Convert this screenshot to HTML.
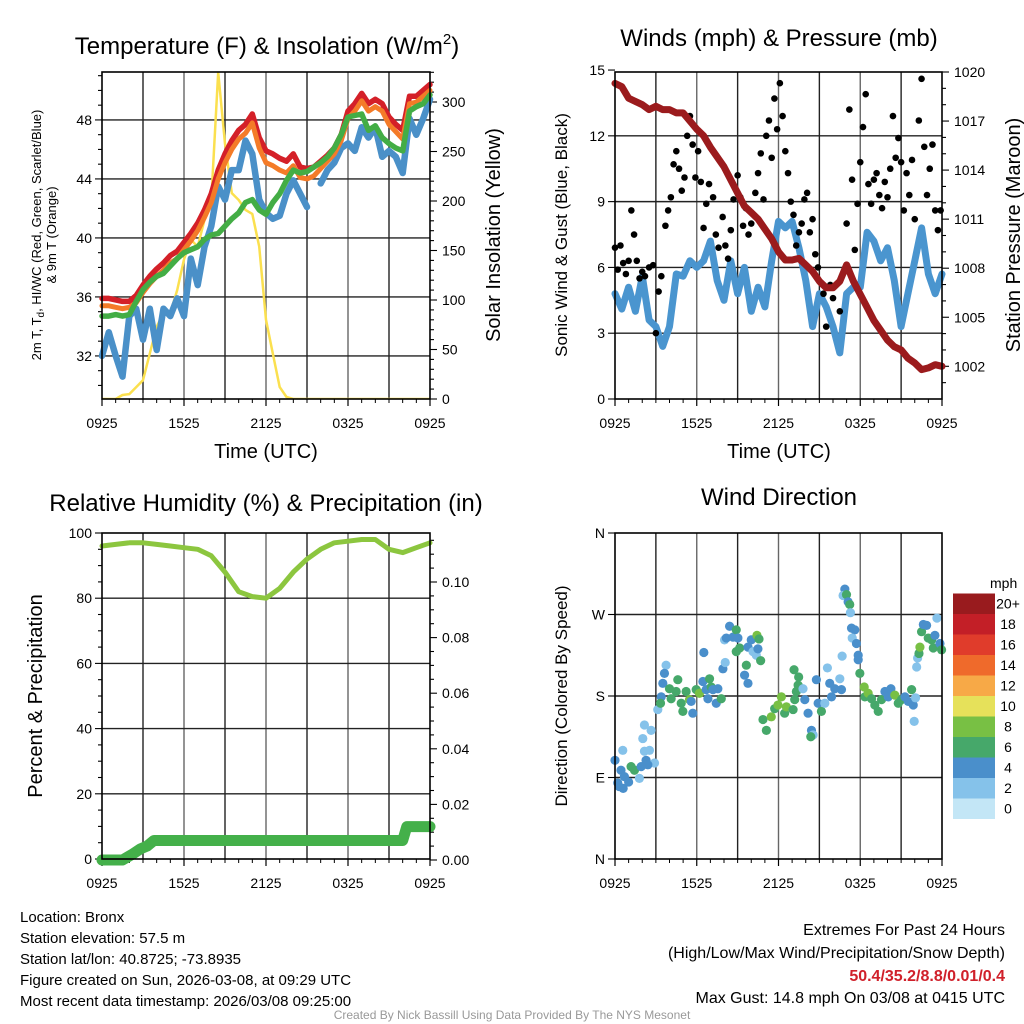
<!DOCTYPE html>
<html><head><meta charset="utf-8"><style>
html,body{margin:0;padding:0;background:#fff;}
svg{display:block;font-family:"Liberation Sans",sans-serif;}
</style></head><body>
<svg id="chart" width="1024" height="1024" viewBox="0 0 1024 1024" xmlns="http://www.w3.org/2000/svg">
<rect x="0" y="0" width="1024" height="1024" fill="#fff"/>
<text x="267" y="54" font-size="24" text-anchor="middle">Temperature (F) &amp; Insolation (W/m<tspan dy="-10" font-size="15">2</tspan><tspan dy="10">)</tspan></text>
<text x="779" y="46" font-size="24" text-anchor="middle">Winds (mph) &amp; Pressure (mb)</text>
<text x="266" y="511" font-size="24" text-anchor="middle">Relative Humidity (%) &amp; Precipitation (in)</text>
<text x="779" y="505" font-size="24" text-anchor="middle">Wind Direction</text>
<text x="266" y="458" font-size="20" text-anchor="middle">Time (UTC)</text>
<text x="779" y="458" font-size="20" text-anchor="middle">Time (UTC)</text>
<text transform="translate(41,235) rotate(-90)" font-size="13" text-anchor="middle">2m T, T<tspan dy="3" font-size="10">d</tspan><tspan dy="-3">, HI/WC (Red, Green, Scarlet/Blue)</tspan></text>
<text transform="translate(56,235) rotate(-90)" font-size="13" text-anchor="middle">&amp; 9m T (Orange)</text>
<text transform="translate(500,235) rotate(-90)" font-size="20" text-anchor="middle">Solar Insolation (Yellow)</text>
<text transform="translate(567,235) rotate(-90)" font-size="17" text-anchor="middle">Sonic Wind &amp; Gust (Blue, Black)</text>
<text transform="translate(1020,235) rotate(-90)" font-size="20" text-anchor="middle">Station Pressure (Maroon)</text>
<text transform="translate(42,696) rotate(-90)" font-size="20" text-anchor="middle">Percent &amp; Precipitation</text>
<text transform="translate(567,696) rotate(-90)" font-size="17" text-anchor="middle">Direction (Colored By Speed)</text>
<g font-size="15">
<text x="20" y="922">Location: Bronx</text>
<text x="20" y="943">Station elevation: 57.5 m</text>
<text x="20" y="964">Station lat/lon: 40.8725; -73.8935</text>
<text x="20" y="985">Figure created on Sun, 2026-03-08, at 09:29 UTC</text>
<text x="20" y="1006">Most recent data timestamp: 2026/03/08 09:25:00</text>
</g>
<g font-size="16" text-anchor="end">
<text x="1005" y="935">Extremes For Past 24 Hours</text>
<text x="1005" y="958">(High/Low/Max Wind/Precipitation/Snow Depth)</text>
<text x="1005" y="981" font-weight="bold" fill="#d0202a">50.4/35.2/8.8/0.01/0.4</text>
<text x="1005" y="1003">Max Gust: 14.8 mph On 03/08 at 0415 UTC</text>
</g>
<text x="512" y="1019" font-size="12" fill="#999" text-anchor="middle">Created By Nick Bassill Using Data Provided By The NYS Mesonet</text>
</svg>
<script>
// ---------- data ----------
const xTickLabels = ["0925","1525","2125","0325","0925"];
const tempRed = [35.9,35.9,35.8,35.7,35.7,36.1,36.8,37.4,37.9,38.3,38.8,39.1,39.7,40.3,41.0,41.9,43.0,44.6,45.7,46.6,47.3,47.7,48.4,46.8,45.9,45.7,45.4,45.2,45.7,44.8,44.7,44.8,45.2,45.6,46.1,47.0,48.6,49.1,49.8,49.1,49.4,49.1,48.2,47.7,47.3,49.6,49.6,50.0,50.4];
const tempOrange = [35.4,35.4,35.3,35.2,35.3,35.6,36.3,36.9,37.4,37.8,38.3,38.6,39.2,39.8,40.5,41.4,42.4,44.0,45.1,46.0,46.7,47.1,47.8,46.1,45.1,44.9,44.6,44.4,44.9,44.1,44.0,44.2,44.7,45.2,45.7,46.6,48.1,48.6,49.3,48.6,48.9,48.6,47.7,47.2,46.7,49.1,49.2,49.6,50.0];
const tempGreen = [34.7,34.7,34.8,34.7,34.8,35.7,36.5,37.0,37.4,37.6,38.1,38.6,39.0,39.2,39.4,39.9,40.2,40.3,40.8,41.3,41.7,42.4,42.6,41.9,41.6,42.4,43.0,43.9,44.6,44.4,44.5,44.8,45.1,45.5,46.1,47.0,48.2,48.3,48.4,47.3,47.6,46.8,46.4,46.1,45.9,48.6,48.9,49.1,49.7];
const tempBlue = [32.0,33.6,32.0,30.6,34.7,35.2,33.1,35.2,32.4,35.2,34.7,35.9,34.7,38.6,36.8,39.4,40.8,43.5,42.6,44.6,44.6,46.6,45.7,42.6,41.7,41.3,41.5,43.0,43.9,43.0,42.1,null,43.7,44.6,45.1,46.1,46.4,45.9,47.5,46.8,47.5,45.5,45.9,45.5,44.4,48.1,47.0,48.1,49.4];
const insolation = [0,0,0,4,5,12,19,46,73,87,87,110,141,161,154,181,201,330,258,208,201,191,187,154,80,46,12,2,0,0,0,0,0,0,0,0,0,0,0,0,0,0,0,0,0,0,0,0,0];
const tempTicks = [32,36,40,44,48];
const insolTicks = [0,50,100,150,200,250,300];

const windSpeed = [4.8,4.1,5.1,4.0,5.6,3.6,3.3,2.4,3.3,5.7,5.6,6.3,6.0,6.3,7.2,5.4,4.5,6.3,4.8,6.0,4.0,5.1,4.2,6.3,8.1,7.8,8.1,6.9,5.4,3.3,4.8,4.2,3.3,2.1,4.8,5.1,5.1,7.6,7.2,6.3,6.9,5.4,3.3,4.8,6.3,7.8,5.7,4.8,5.7];
const gustHours = [0.0,0.2,0.4,0.6,0.8,1.0,1.2,1.4,1.6,1.8,2.0,2.2,2.5,2.8,3.0,3.2,3.4,3.7,3.9,4.1,4.3,4.5,4.7,4.9,5.1,5.3,5.5,5.7,5.9,6.1,6.3,6.5,6.7,6.9,7.2,7.4,7.6,7.9,8.1,8.3,8.5,8.7,9.0,9.2,9.4,9.6,9.8,10.0,10.3,10.5,10.7,10.9,11.1,11.3,11.5,11.7,11.9,12.1,12.3,12.5,12.7,12.9,13.1,13.3,13.5,13.7,13.9,14.1,14.3,14.5,14.7,14.9,15.1,15.3,15.5,15.8,16.0,16.5,17.0,17.2,17.4,17.6,17.8,18.0,18.2,18.4,18.6,18.8,19.0,19.2,19.4,19.6,19.8,20.0,20.2,20.4,20.6,20.8,21.0,21.2,21.4,21.6,21.8,22.0,22.3,22.5,22.7,22.9,23.1,23.3,23.5,23.7,23.9];
const gustValues = [6.9,5.9,7.0,6.2,5.7,6.3,8.6,7.5,6.3,5.5,5.8,5.6,6.0,6.1,3.0,4.9,5.6,7.9,8.6,9.2,10.7,11.3,10.5,9.5,10.1,12.0,12.9,11.6,10.1,11.3,9.9,7.8,8.9,9.8,9.2,7.5,6.9,8.3,7.0,6.4,7.7,9.1,10.2,9.2,7.9,8.7,7.5,8.0,9.4,10.3,11.2,9.1,12.0,12.7,11.0,13.7,12.3,14.4,12.9,11.3,10.3,9.0,8.4,7.0,7.6,8.0,9.1,9.4,7.6,8.2,6.6,6.0,5.3,4.8,3.3,5.2,4.6,4.0,8.0,13.2,10.0,6.8,8.9,10.8,12.4,13.9,9.8,8.9,10.0,10.3,9.3,8.7,9.9,9.2,10.5,12.9,11.0,11.9,10.8,8.6,10.3,9.3,10.9,8.2,12.7,14.6,11.5,9.3,10.5,11.6,8.6,7.7,8.6];
const pressure = [1019.3,1019.1,1018.4,1018.2,1018.0,1017.7,1017.9,1017.7,1017.7,1017.5,1017.5,1017.0,1016.5,1016.1,1015.4,1014.8,1014.2,1013.4,1012.6,1011.8,1011.4,1011.0,1010.4,1009.8,1009.0,1008.5,1008.5,1008.6,1008.2,1007.8,1007.2,1006.8,1006.8,1007.2,1008.2,1007.2,1006.4,1005.6,1004.8,1004.2,1003.6,1003.2,1003.0,1002.5,1002.2,1001.8,1001.9,1002.1,1002.0];
const windTicks = [0,3,6,9,12,15];
const pressureTicks = [1002,1005,1008,1011,1014,1017,1020];

const rhHours = [0,1,2,3,4,5,6,7,8,9,10,11,12,13,14,15,16,17,18,19,20,21,22,23,24];
const rhValues = [96,96.5,97,97,96.5,96,95.5,95,93,88,82,80.5,80,83,88,92,95,97,97.5,98,98,95,94,95.5,97];
const precipHours = [0,1.5,2.2,2.8,3.3,3.8,22.0,22.3,24];
const precipValues = [0,0,0.002,0.004,0.005,0.007,0.007,0.012,0.012];
const rhTicks = [0,20,40,60,80,100];
const precipTicks = ["0.00","0.02","0.04","0.06","0.08","0.10"];

const dirHours = [0.0,0.44,0.69,0.2,1.18,1.43,1.92,2.28,1.79,2.9,2.41,2.16,2.53,0.57,2.04,2.65,2.16,3.14,3.39,3.34,3.75,3.63,3.51,4.0,4.12,4.61,4.49,4.86,4.98,5.22,5.47,5.71,5.59,5.96,6.2,6.45,6.69,6.94,7.06,7.19,6.82,7.43,7.55,7.8,6.52,7.92,8.09,8.04,8.17,8.41,8.66,8.9,9.02,9.15,8.9,9.64,9.51,9.76,9.76,10.0,10.13,10.37,10.49,10.42,10.57,10.69,10.86,11.11,11.47,11.72,11.96,12.21,12.45,12.58,13.07,13.19,13.31,13.44,13.48,13.14,13.8,13.93,14.17,14.42,14.54,14.37,14.78,14.91,15.15,15.4,15.59,15.76,15.89,16.13,16.5,16.62,16.67,16.87,16.74,16.99,17.11,17.23,17.28,17.36,17.6,17.41,17.72,17.85,17.85,17.97,18.29,18.34,18.58,18.83,19.07,19.32,19.56,19.81,20.05,20.25,20.54,20.79,21.03,21.28,21.52,21.77,21.89,22.06,21.96,22.14,22.21,22.31,22.38,22.5,22.63,22.87,22.99,23.24,23.36,23.48,23.63,23.85,23.97,0.3,0.6,1.0];
const dirDegs = [109,98,91,84,102,98,102,109,89,106,104,119,120,120,133,142,148,165,179,172,214,205,194,188,177,198,185,172,163,185,176,161,174,187,183,196,187,199,190,187,177,172,188,177,228,210,217,242,244,257,245,253,244,233,229,214,203,194,234,242,229,225,232,247,243,219,154,142,157,166,170,179,161,168,165,176,185,192,201,209,188,176,161,142,137,135,198,172,163,172,211,194,179,188,199,187,224,298,291,292,284,281,272,255,253,244,238,225,220,205,190,179,183,177,170,163,176,185,179,188,181,172,176,179,174,187,170,178,152,212,222,227,234,251,259,258,244,242,233,247,266,238,231,80,78,85];
const dirSpeeds = [4,4,4,4,6,6,4,4,2,2,4,2,2,2,2,2,2,2,4,6,2,4,4,6,6,6,6,6,6,6,8,4,4,6,8,4,4,6,6,4,4,4,4,6,4,4,2,2,4,4,4,6,4,6,6,6,4,4,4,4,2,2,4,8,6,6,6,6,8,6,8,8,6,8,6,6,6,6,6,6,2,4,4,4,2,6,4,4,6,2,2,4,4,4,2,4,2,4,2,6,4,6,2,4,4,2,4,4,4,6,8,6,8,6,6,6,6,4,4,4,8,6,6,4,4,6,4,2,2,2,2,6,8,6,4,4,6,6,6,4,2,4,6,4,4,4];
const dirTickLabels = ["N","E","S","W","N"];
const colorbarLabels = ["0","2","4","6","8","10","12","14","16","18","20+"];
const colorbarColors = ["#c3e6f6","#85c2ea","#4a8fcb","#46a86a","#78c044","#e6e15a","#f7a947","#ef6a2b","#e03c2b","#c31f27","#991b1e"];

// ---------- drawing ----------
const NS = "http://www.w3.org/2000/svg";
const svg = document.getElementById('chart');
function mk(tag, attrs, parent){
  const e = document.createElementNS(NS, tag);
  for (const k in attrs) e.setAttribute(k, attrs[k]);
  (parent||svg).appendChild(e);
  return e;
}
function panel(x0,x1,y0,y1){ return {x0,x1,y0,y1,hx:h=>x0+(x1-x0)*h/24}; }
const P1 = panel(102,430,72,399), P2 = panel(615,942,72,399), P3 = panel(102,430,533,859), P4 = panel(615,942,533,859);
const tY = v => 399 - (v-29.08)*14.75;
const iY = v => 399 - v*0.99;
const wY = v => 399 - v*21.93;
const pY = v => 399 - (v-1000)*16.35;
const rY = v => 859 - v*3.26;
const prY = v => 860 - v*2780;
const dY = v => 859 - v*326/360;
const hrs = i => i*0.5;

function frame(P, name){
  const g = mk('g', {});
  
  
  for (let h=3; h<24; h+=3){
    const l = mk('line',{x1:P.hx(h),x2:P.hx(h),y1:P.y0,y2:P.y1,stroke:(h%6==0)?'#666':'#222','stroke-width':1.4},g);
    
    
  }
  xTickLabels.forEach((lab,i)=>{
    const x = P.hx(i*6);
    const t = mk('line',{x1:x,x2:x,y1:P.y1,y2:P.y1+7,stroke:'#000','stroke-width':1.2},g);
    
    
    const tx = mk('text',{x:x,y:P.y1+29,'font-size':14,'text-anchor':'middle'},g);
    tx.textContent = lab;
    
    
  });
  for (let h=1; h<24; h++){
    if (h%6==0) continue;
    const t = mk('line',{x1:P.hx(h),x2:P.hx(h),y1:P.y1,y2:P.y1+4,stroke:'#000','stroke-width':1},g);
    
    
  }
  return g;
}
function hgrid(P, y, g, name){
  const l = mk('line',{x1:P.x0,x2:P.x1,y1:y,y2:y,stroke:'#222','stroke-width':1.4},g);
  
  
}
function yTick(P, y, lab, side, g, name, major){
  const x = side=='l'?P.x0:P.x1;
  const len = major?7:4;
  const t = mk('line',{x1:x,x2:side=='l'?x-len:x+len,y1:y,y2:y,stroke:'#000','stroke-width':1.1},g);
  
  
  if (lab!==null){
    const tx = mk('text',{x:side=='l'?x-10:x+12,y:y+5,'font-size':14,'text-anchor':side=='l'?'end':'start'},g);
    tx.textContent = lab;
    
    
  }
}
function border(P, name){
  const r = mk('rect',{x:P.x0,y:P.y0,width:P.x1-P.x0,height:P.y1-P.y0,fill:'none',stroke:'#000','stroke-width':1.6});
  
  
}
function linePath(P, xs, ys, yf, color, w, name){
  let d='', pen=false;
  for (let i=0;i<ys.length;i++){
    if (ys[i]===null){pen=false;continue;}
    d += (pen?'L':'M') + P.hx(xs[i]).toFixed(1)+','+yf(ys[i]).toFixed(1);
    pen=true;
  }
  const p = mk('path',{d:d,fill:'none',stroke:color,'stroke-width':w,'stroke-linejoin':'round','stroke-linecap':'round'});
  
  
  return p;
}
const idx = tempRed.map((_,i)=>hrs(i));

// Panel 1
let g1 = frame(P1,'temp');
tempTicks.forEach(v=>{ hgrid(P1,tY(v),g1,'temp'); yTick(P1,tY(v),String(v),'l',g1,'temp',true); });
for (let v=30; v<=51; v++){ if (tempTicks.indexOf(v)<0) yTick(P1,tY(v),null,'l',g1,'temp',false); }
insolTicks.forEach(v=>yTick(P1,iY(v),String(v),'r',g1,'insolation',true));
for (let v=10; v<=330; v+=10){ if (v%50) yTick(P1,iY(v),null,'r',g1,'insolation',false); }
const clip1 = mk('clipPath',{id:'c1'}); mk('rect',{x:P1.x0,y:P1.y0,width:P1.x1-P1.x0,height:P1.y1-P1.y0},clip1);
linePath(P1, idx, insolation.map(v=>Math.min(v,330)), iY, '#fbe04f', 2.5, 'insolation-line').setAttribute('clip-path','url(#c1)');
linePath(P1, idx, tempBlue, tY, '#4a90c8', 6.5, 'windchill-line');
linePath(P1, idx, tempRed, tY, '#d42028', 5.5, 'temperature-line');
linePath(P1, idx, tempOrange, tY, '#f47b28', 5, 'temperature-9m-line');
linePath(P1, idx, tempGreen, tY, '#43ad45', 5.5, 'dewpoint-line');
border(P1,'temp');

// Panel 2
let g2 = frame(P2,'wind');
windTicks.forEach(v=>{ if (v>0 && v<15) hgrid(P2,wY(v),g2,'wind'); yTick(P2,wY(v),String(v),'l',g2,'wind',true); });
pressureTicks.forEach(v=>yTick(P2,pY(v),String(v),'r',g2,'pressure',true));
for (let v=1001; v<=1020; v++){ if (pressureTicks.indexOf(v)<0) yTick(P2,pY(v),null,'r',g2,'pressure',false); }
linePath(P2, idx, windSpeed, wY, '#4a95cf', 7, 'wind-speed-line');
const gg = mk('g',{});


gustHours.forEach((h,i)=>{
  const c = mk('circle',{cx:P2.hx(h),cy:wY(gustValues[i]),r:3.3,fill:'#000'},gg);
  
  
});
linePath(P2, idx, pressure, pY, '#9b1b1d', 7, 'pressure-line');
border(P2,'wind');

// Panel 3
let g3 = frame(P3,'humidity');
rhTicks.forEach(v=>{ if (v>0 && v<100) hgrid(P3,rY(v),g3,'humidity'); yTick(P3,rY(v),String(v),'l',g3,'humidity',true); });
for (let v=5; v<100; v+=5){ if (v%20) yTick(P3,rY(v),null,'l',g3,'humidity',false); }
precipTicks.forEach(s=>yTick(P3,prY(parseFloat(s)),s,'r',g3,'precip',true));
for (let v=0.005; v<0.118; v+=0.005){ if (Math.round(v*1000)%20) yTick(P3,prY(v),null,'r',g3,'precip',false); }
linePath(P3, rhHours, rhValues, rY, '#8cc63f', 5, 'humidity-line');
linePath(P3, precipHours, precipValues, prY, '#44b04a', 11, 'precipitation-line');
border(P3,'humidity');

// Panel 4
let g4 = frame(P4,'direction');
dirTickLabels.forEach((lab,i)=>{ const y=dY(i*90); if (i>0&&i<4) hgrid(P4,y,g4,'direction'); yTick(P4,y,lab,'l',g4,'direction',true); });
const dg = mk('g',{});


dirHours.forEach((h,i)=>{
  const s = dirSpeeds[i];
  const bin = Math.min(10, Math.round(s/2));
  const c = mk('circle',{cx:P4.hx(h),cy:dY(dirDegs[i]),r:4.6,fill:colorbarColors[bin]},dg);
  
  
});
border(P4,'direction');

// colorbar
const cb = mk('g',{});


const cbt = mk('text',{x:990,y:588,'font-size':14},cb);
cbt.textContent='mph';


colorbarLabels.forEach((lab,i)=>{
  const y = 819 - (i+1)*20.5;
  const r = mk('rect',{x:953,y:y,width:42,height:20.5,fill:colorbarColors[i]},cb);
  
  
  const t = mk('text',{x:1008,y:y+15,'font-size':14,'text-anchor':'middle'},cb);
  t.textContent = lab;
  
  
});
</script>
</body></html>
